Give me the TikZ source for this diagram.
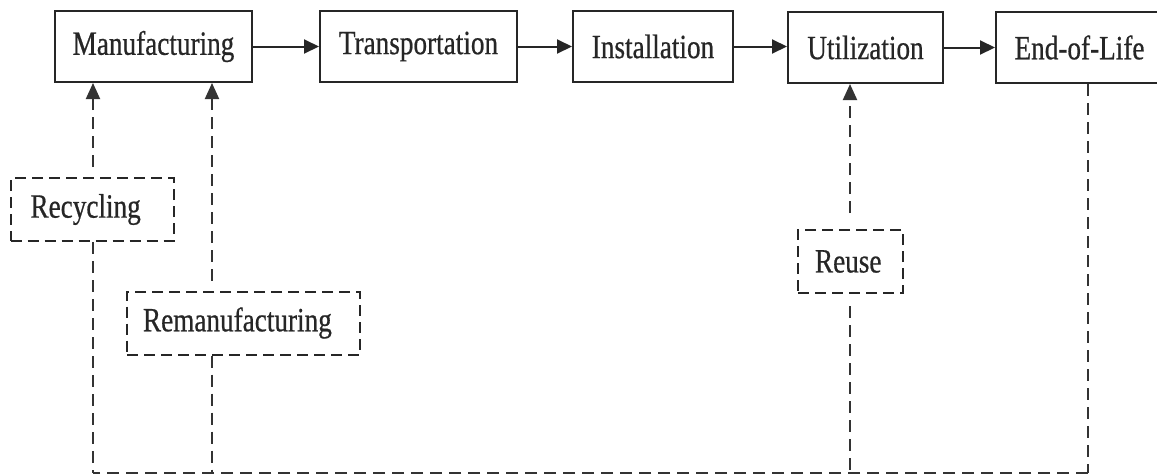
\documentclass[tikz,border=0pt]{standalone}
\usepackage{fontspec}
\newfontfamily\boxfont[FakeStretch=0.8,FakeBold=0.6]{Liberation Serif}
\usetikzlibrary{arrows.meta}
\begin{document}
\begin{tikzpicture}[x=1pt,y=-1pt,
  stage/.style={draw=black!85, line width=2pt, minimum height=71pt, inner sep=0pt,
    font=\boxfont\fontsize{34}{37}\selectfont, text=black!85},
  loopbox/.style={stage, dash pattern=on 11pt off 6pt, minimum height=63pt, align=left},
  flow/.style={line width=2pt, draw=black!85, -{Triangle[length=15pt,width=14pt]}},
  back/.style={line width=2pt, draw=black!80, dash pattern=on 12pt off 7pt},
  backup/.style={back, -{Triangle[length=16pt,width=14pt]}}
]
\useasboundingbox (0,0) rectangle (1157,475);

% life-cycle stages
\node[stage, minimum width=197pt] (manu)  at (153.5,46.5)  {Manufacturing};
\node[stage, minimum width=197pt] (trans) at (418.5,46.5)  {Transportation};
\node[stage, minimum width=160pt] (inst)  at (653,46.5)    {Installation};
\node[stage, minimum width=155pt] (util)  at (865.5,47.5)  {Utilization};
\node[stage, minimum width=167pt] (eol)   at (1079.5,47.5) {End-of-Life};

% forward flow
\draw[flow] (manu) -- (trans);
\draw[flow] (trans) -- (inst);
\draw[flow] (inst.east) -- (inst.east -| util.west);
\draw[flow] (util) -- (eol);

% recovery options
\node[loopbox, text width=123pt, inner xsep=20pt] (recy)  at (92,209.5)  {Recycling};
\node[loopbox, text width=201pt, inner xsep=16pt] (reman) at (243.5,323) {Remanufacturing};
\node[loopbox, text width=71pt,  inner xsep=17pt] (reuse) at (850.5,261.5) {Reuse};

% x positions of the return lines and the collecting line
\coordinate (recx)  at (93,0);
\coordinate (remx)  at (212,0);
\coordinate (reux)  at (850,0);
\coordinate (eolx)  at (1088,0);
\coordinate (floor) at (0,473);

% return paths
\draw[backup, shorten <=10pt] (recy.north -| recx) -- (manu.south -| recx);
\draw[backup, shorten <=10pt] (reman.north -| remx) -- (manu.south -| remx);
\draw[backup, shorten <=16pt] (reuse.north -| reux) -- (util.south -| reux);

% collecting line from End-of-Life back to the recovery options
\draw[back] (eol.south -| eolx) -- (eolx |- floor);
\draw[back] (eolx |- floor) -- (recx |- floor);
\draw[back] (recy.south -| recx) -- (recx |- floor);
\draw[back] (reman.south -| remx) -- (remx |- floor);
\draw[back, shorten <=12pt] (reuse.south -| reux) -- (reux |- floor);
\end{tikzpicture}
\end{document}
